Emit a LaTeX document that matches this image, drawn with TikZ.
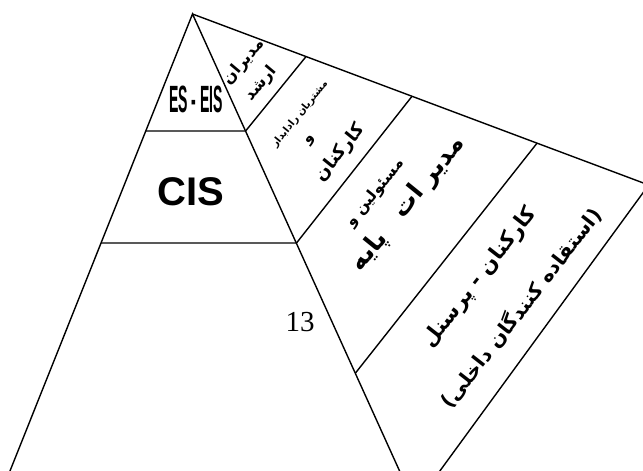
\documentclass[tikz,border=0pt]{standalone}
\usepackage{fontspec}
\setmainfont{Liberation Serif}
\setsansfont{Liberation Sans}
\newfontfamily\farsi[Script=Arabic]{DejaVu Sans}
\TeXXeTstate=1
\usetikzlibrary{calc}
\tikzset{
  edge/.style={line width=1.4pt, draw=black},
  farsilbl/.style={rotate=51, inner sep=0pt},
  latinlbl/.style={inner sep=0pt}
}
\newcommand{\fasize}[1]{\farsi\bfseries\fontsize{#1}{#1}\selectfont}

\begin{document}
\begin{tikzpicture}[x=1pt, y=-1pt]
  \useasboundingbox (0,0) rectangle (643,471);
  \clip (0,0) rectangle (643,471);

  % Corners of the pyramid
  \coordinate (apex) at (192.5,14);
  \coordinate (botL) at (0,496);
  \coordinate (tipB) at (415,505);
  \coordinate (farR) at (648.7,185);

  % Junctions of the levels
  \coordinate (l1) at (145.8,131);
  \coordinate (r1) at (245.6,131);
  \coordinate (l2) at (101,243);
  \coordinate (r2) at (296.5,243);
  \coordinate (r3) at (355.5,373);
  \coordinate (t1) at (306,56.6);
  \coordinate (t2) at (412,96.3);
  \coordinate (t3) at (537,143.2);

  % Outline
  \draw[edge] (botL) -- (apex) -- (tipB);
  \draw[edge] (apex) -- (farR) -- (tipB);

  % Levels
  \draw[edge] (l1) -- (r1) -- (t1);
  \draw[edge] (l2) -- (r2) -- (t2);
  \draw[edge] (r3) -- (t3);

  % Systems
  \node[latinlbl, font=\sffamily\bfseries\fontsize{38}{38}\selectfont, xscale=0.37] (es) at (196,99) {ES - EIS};
  \node[latinlbl, font=\sffamily\bfseries\fontsize{40}{40}\selectfont] (cis) at (191,191.5) {CIS};
  \node[latinlbl, font=\fontsize{29}{29}\selectfont] (num) at (300,322) {13};

  % Users
  \node[farsilbl, rotate=-1] (top1) at (244,62) {\fasize{16}\beginR مدیران\endR};
  \node[farsilbl, rotate=-1] (top2) at (261,84) {\fasize{16}\beginR ارشد\endR};
  \node[farsilbl] (mid1) at (300,114) {\fasize{10}\beginR مشتریان رادابدار\endR};
  \node[farsilbl] (mid2) at (311,141) {\fasize{15}\beginR و\endR};
  \node[farsilbl] (mid3) at (340,153) {\fasize{18}\beginR کارکنان\endR};
  \node[farsilbl] (low1) at (375,193) {\fasize{15.5}\beginR مسئولین و\endR};
  \node[farsilbl] (low2) at (408,204) {\fasize{25}\beginR مدیر ات\quad پایه\endR};
  \node[farsilbl, rotate=1] (staff1) at (480,278) {\fasize{21}\beginR کارکنان - پرسنل\endR};
  \node[farsilbl, rotate=1] (staff2) at (521,308) {\fasize{20}\beginR (استقاده کنندگان داخلی)\endR};
\end{tikzpicture}
\end{document}
